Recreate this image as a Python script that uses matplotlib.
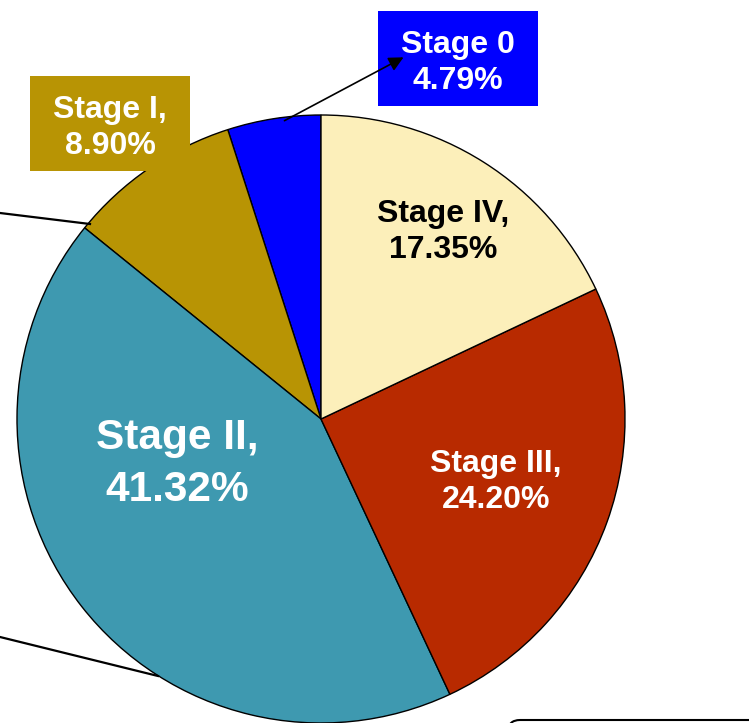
import matplotlib
matplotlib.use("Agg")
import matplotlib.pyplot as plt
from matplotlib.patches import FancyBboxPatch

# stages counterclockwise from 12 o'clock
stages = ["Stage 0", "Stage I", "Stage II", "Stage III", "Stage IV"]
shares = [4.79, 8.90, 41.32, 24.20, 17.35]
colors = ["#0000FF", "#B89404", "#3E99B0", "#B82A00", "#FCEFBA"]

W, H = 749, 723
plt.rcParams["font.family"] = ["Liberation Sans", "DejaVu Sans"]

fig = plt.figure(figsize=(W / 100, H / 100), dpi=100)
ax = fig.add_axes([0, 0, 1, 1])


def py(y):
    # picture rows are measured from the top
    return H - y


cx, cy, r = 321, 419, 304
ax.pie(shares, colors=colors, startangle=90, counterclock=True,
       center=(cx, py(cy)), radius=r, frame=True,
       wedgeprops=dict(edgecolor="black", linewidth=1))
ax.set_xlim(0, W)
ax.set_ylim(0, H)
ax.set_aspect("equal")
ax.axis("off")

small = dict(ha="center", va="center", fontsize=23, fontweight="bold",
             linespacing=1.28, zorder=3)

# in-slice labels
ax.text(443, py(232), f"{stages[4]},\n{shares[4]:.2f}%", color="black", **small)
ax.text(496, py(482), f"{stages[3]},\n{shares[3]:.2f}%", color="white", **small)
ax.text(177, py(464), f"{stages[2]},\n{shares[2]:.2f}%", ha="center", va="center",
        fontsize=30.5, fontweight="bold", color="white", linespacing=1.38, zorder=3)

# boxed labels
ax.add_patch(plt.Rectangle((378, py(106)), 160, 95, facecolor=colors[0], zorder=2))
ax.text(458, py(63), f"{stages[0]}\n{shares[0]:.2f}%", color="white", **small)
ax.add_patch(plt.Rectangle((30, py(171)), 160, 95, facecolor=colors[1], zorder=2))
ax.text(110, py(128), f"{stages[1]},\n{shares[1]:.2f}%", color="white", **small)

# arrow to Stage 0 box
ax.annotate("", xy=(406, py(56)), xytext=(282, py(122)),
            arrowprops=dict(arrowstyle="-|>", color="black", lw=1.2,
                            mutation_scale=22))

# leader lines running off the left edge
ax.plot([0, 90], [py(213), py(224)], color="black", lw=1.6)
ax.plot([0, 158], [py(637), py(676)], color="black", lw=1.6)

# partly visible box at the bottom right
ax.add_patch(FancyBboxPatch((508, py(760)), 300, 40,
                            boxstyle="round,pad=0,rounding_size=12",
                            facecolor="white", edgecolor="black", lw=1.5))

fig.savefig("out.png", dpi=100)
